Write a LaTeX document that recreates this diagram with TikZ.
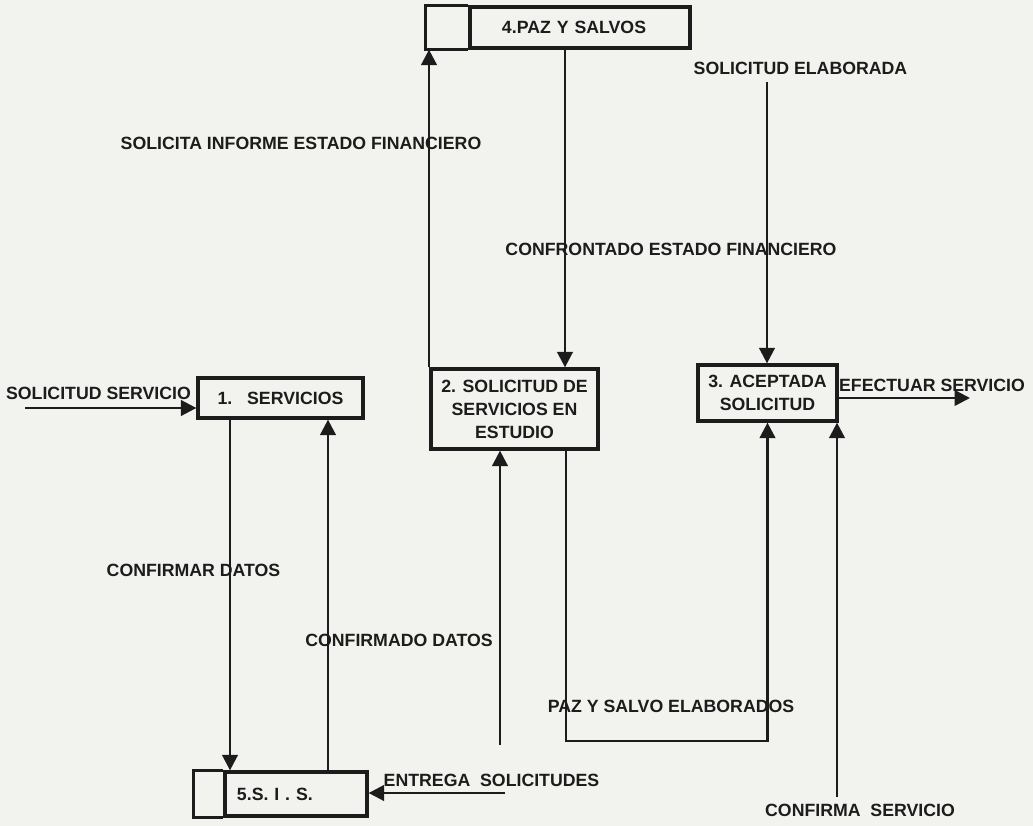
\documentclass[tikz,border=0pt]{standalone}
\usepackage{fontspec}
\setmainfont{Liberation Sans}
\usetikzlibrary{arrows.meta}
\definecolor{paperColor}{RGB}{242,242,238}
\definecolor{inkColor}{RGB}{28,28,28}
\newcommand{\labelFont}{\fontsize{12.6}{16.3}\selectfont\bfseries}
\tikzstyle{sheet} = [x=0.025cm, y=-0.025cm]
\tikzstyle{processBox} = [draw=inkColor, line width=2.3pt, inner sep=0pt, align=center, text=inkColor, font=\labelFont]
\tikzstyle{storeBox} = [draw=inkColor, line width=2.3pt, inner ysep=0pt, align=left, text=inkColor, font=\labelFont]
\tikzstyle{flowLine} = [draw=inkColor, line width=1.9pt, -{Triangle[length=11pt, width=11pt]}]
\tikzstyle{flowLabel} = [font=\labelFont, text=inkColor, inner sep=0pt]
\newcommand{\storeTab}[2]{\draw [inkColor, line width=2.3pt] (#1.north west) -- ++(-#2,0) |- (#1.south west);}

\begin{document}
\begin{tikzpicture}[sheet]
    \fill [paperColor] (0,0) rectangle (1033,826);
    % procesos
    \node [processBox, minimum width=4.125cm, minimum height=1cm] (servicios) at (280.5,398) {1.\ \ \ SERVICIOS};
    \node [processBox, minimum width=4.175cm, minimum height=2cm] (estudio) at (514.5,409) {2. SOLICITUD DE\\SERVICIOS EN\\ESTUDIO};
    \node [processBox, minimum width=3.475cm, minimum height=1.4cm] (aceptada) at (767.5,393) {3. ACEPTADA\\SOLICITUD};
    % almacenes
    \node [storeBox, minimum height=1.025cm, inner xsep=0.8cm, text width=3.9cm] (pazSalvos) at (580,27.5) {4.PAZ Y SALVOS};
    \storeTab{pazSalvos}{43}
    \node [storeBox, minimum height=1.1cm, inner xsep=0.3cm, text width=2.95cm] (sis) at (296,794) {5.S. I . S.};
    \storeTab{sis}{30}
    % extremos libres
    \coordinate (servicioIn) at (25,408);
    \coordinate (efectuarOut) at (970,398);
    \coordinate (elaboradaIn) at (767,82);
    \coordinate (confirmaIn) at (837,797);
    \coordinate (entregaIn) at (505,793);
    \coordinate (confirmadoIn) at (500,745);
    \coordinate (pazCorner) at (566,741);
    \coordinate (datosDown) at (230,0);
    \coordinate (datosUp) at (328,0);
    \coordinate (informeUp) at (429,0);
    \coordinate (confrontaDown) at (565,0);
    % flujos
    \draw [flowLine] (servicioIn) -- (servicioIn -| servicios.west);
    \draw [flowLine] (datosDown |- servicios.south) -- (datosDown |- sis.north);
    \draw [flowLine] (datosUp |- sis.north) -- (datosUp |- servicios.south);
    \draw [flowLine] (informeUp |- estudio.north) -- (informeUp |- pazSalvos.south);
    \draw [flowLine] (confrontaDown |- pazSalvos.south) -- (confrontaDown |- estudio.north);
    \draw [flowLine] (confirmadoIn) -- (confirmadoIn |- estudio.south);
    \draw [flowLine] (pazCorner |- estudio.south) -- (pazCorner) -| (aceptada.south);
    \draw [flowLine] (elaboradaIn) -- (elaboradaIn |- aceptada.north);
    \draw [flowLine] (confirmaIn) -- (confirmaIn |- aceptada.south);
    \draw [flowLine] (efectuarOut -| aceptada.east) -- (efectuarOut);
    \draw [flowLine] (entregaIn) -- (entregaIn -| sis.east);
    % etiquetas
    \node [flowLabel] (lblServicio) at (98.5,393) {SOLICITUD SERVICIO};
    \node [flowLabel] (lblInforme) at (301,143) {SOLICITA INFORME ESTADO FINANCIERO};
    \node [flowLabel] (lblConfronta) at (671,249) {CONFRONTADO ESTADO FINANCIERO};
    \node [flowLabel] (lblElaborada) at (800.5,68) {SOLICITUD ELABORADA};
    \node [flowLabel] (lblEfectuar) at (932,385) {EFECTUAR SERVICIO};
    \node [flowLabel] (lblConfirmar) at (193.5,570) {CONFIRMAR DATOS};
    \node [flowLabel] (lblConfirmado) at (399,640) {CONFIRMADO DATOS};
    \node [flowLabel] (lblPazSalvo) at (671,706) {PAZ Y SALVO ELABORADOS};
    \node [flowLabel] (lblEntrega) at (491.5,780) {ENTREGA\ \ SOLICITUDES};
    \node [flowLabel] (lblConfirma) at (860,810) {CONFIRMA\ \ SERVICIO};
\end{tikzpicture}
\end{document}
